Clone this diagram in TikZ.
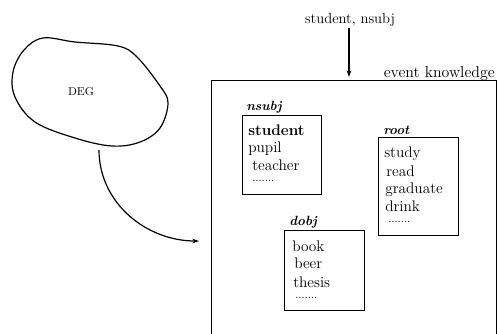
\documentclass[tikz,border=0pt]{standalone}
\usetikzlibrary{arrows.meta}
\begin{document}
\begin{tikzpicture}[x=0.75pt,y=-0.75pt,
  frame/.style={draw,line width=0.9pt,inner sep=0pt,anchor=north west},
  word/.style={anchor=base west,inner sep=0pt,font=\fontsize{11.5}{13}\selectfont},
  rel/.style={anchor=base west,inner sep=0pt,font=\fontsize{10}{12}\selectfont\bfseries\itshape},
  dots/.style={anchor=base west,inner sep=0pt,font=\fontsize{8}{9}\selectfont},
  conn/.style={line width=0.9pt,-{Stealth[length=5pt,width=3.5pt]}}]
\useasboundingbox (0,0) rectangle (498,333);
\clip (0,0) rectangle (498,333);
% DEG blob
\draw[line width=0.9pt] plot[smooth cycle,tension=0.6] coordinates
 {(43,38) (75,42) (118,46) (137,57) (160,86) (168,103) (160,128) (140,142) (112,146) (75,138) (35,122) (15,97) (13,72) (24,50)};
\node[inner sep=0pt,font=\fontsize{8.5}{10}\selectfont] (deg) at (81,92) {DEG};
\coordinate (degout) at (99,150);
% event knowledge frame
\node[frame,minimum width=285*0.75pt,minimum height=270*0.75pt] (ek) at (211,80) {};
\node[anchor=base east,inner sep=0pt,font=\fontsize{11.9}{13}\selectfont] (eklab) at (495,77) {event knowledge};
% input
\node[anchor=base,inner sep=0pt,font=\fontsize{11}{13}\selectfont] (inp) at (350,23) {student, nsubj};
\coordinate (inpa) at (349,28);
\coordinate (inpb) at (349,77);
\draw[conn] (inpa) -- (inpb);
% DEG arrow
\coordinate (ekin) at (199,241);
\draw[conn] (degout) to[out=-90,in=180] (ekin);
% nsubj box
\node[frame,minimum width=79*0.75pt,minimum height=79*0.75pt] (nsubj) at (242,115) {};
\node[rel] (nsubjl) at (246,110) {nsubj};
\node[word,font=\fontsize{11.5}{13}\selectfont\bfseries] (w1) at (248,135) {student};
\node[word] (w2) at (248,152) {pupil};
\node[word] (w3) at (252,170) {teacher};
\node[dots] (w4) at (252,181) {.......};
% root box
\node[frame,minimum width=80*0.75pt,minimum height=98*0.75pt] (root) at (378,137) {};
\node[rel] (rootl) at (383,134) {root};
\node[word] (r1) at (384,157) {study};
\node[word] (r2) at (386,176) {read};
\node[word] (r3) at (385,193) {graduate};
\node[word] (r4) at (385,211) {drink};
\node[dots] (r5) at (388,222) {.......};
% dobj box
\node[frame,minimum width=80*0.75pt,minimum height=80*0.75pt] (dobj) at (284,230) {};
\node[rel] (dobjl) at (289,225) {dobj};
\node[word] (d1) at (292,251) {book};
\node[word] (d2) at (294,268) {beer};
\node[word] (d3) at (293,287) {thesis};
\node[dots] (d4) at (295,298) {.......};
\end{tikzpicture}
\end{document}
